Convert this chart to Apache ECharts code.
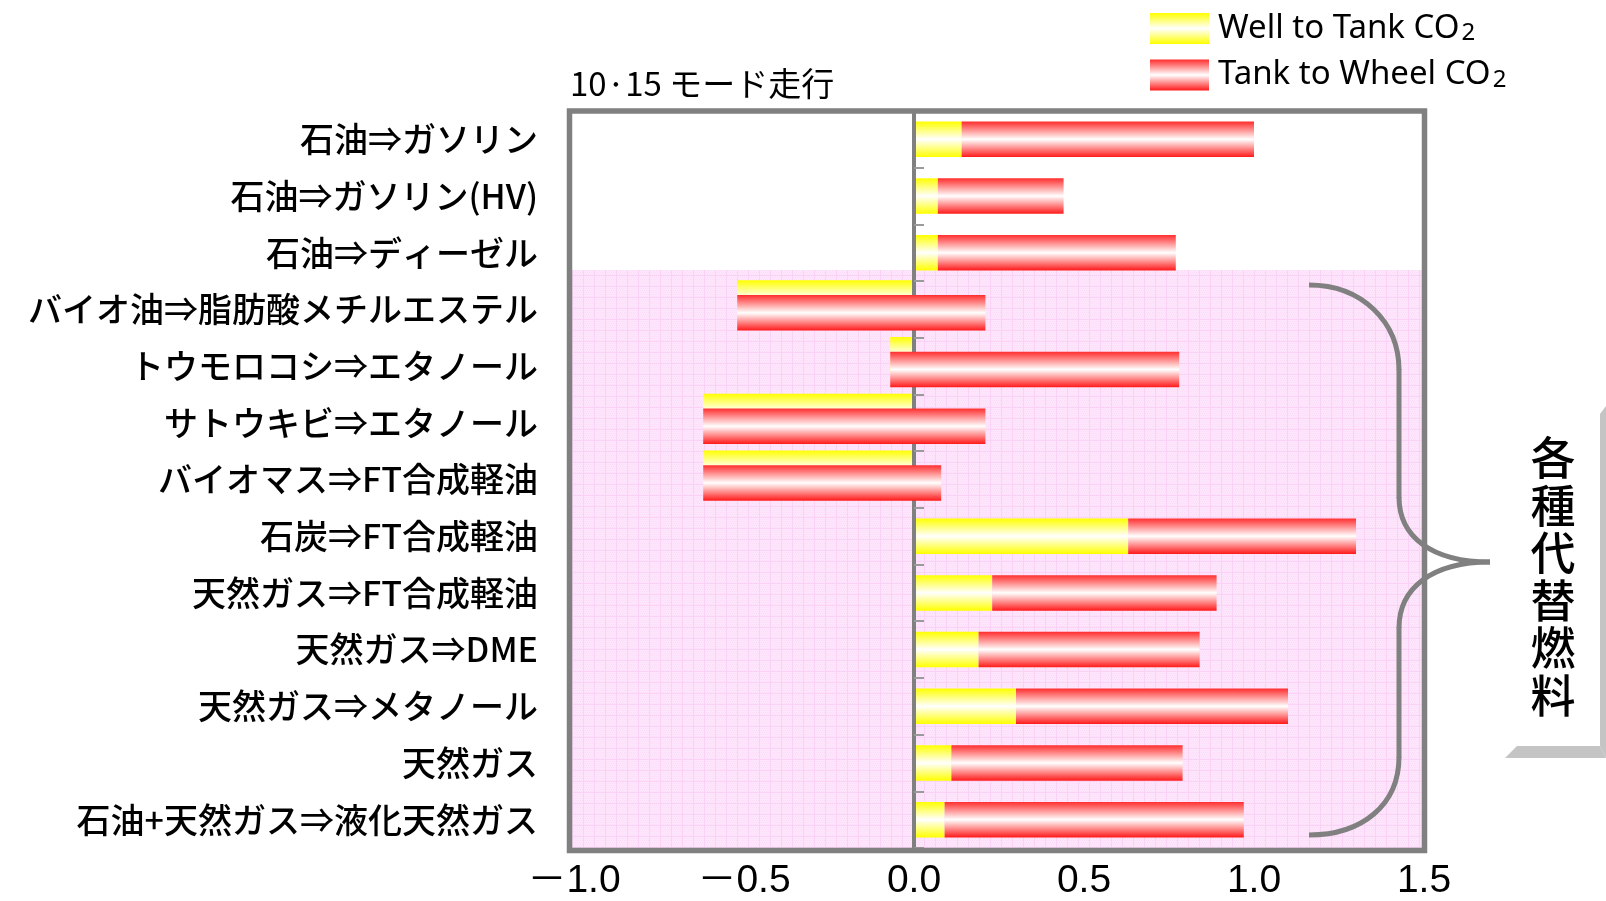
<!DOCTYPE html>
<html>
<head>
<meta charset="utf-8">
<script src="https://cdn.jsdelivr.net/npm/echarts@6/dist/echarts.min.js"></script>
<style>
  html, body { margin: 0; padding: 0; background: #fff; }
  #chart { width: 1606px; height: 901px; }
</style>
</head>
<body>
<div id="chart"></div>
<script>
// Fuel pathways, top to bottom
const categories = [
  '石油⇒ガソリン',
  '石油⇒ガソリン(HV)',
  '石油⇒ディーゼル',
  'バイオ油⇒脂肪酸メチルエステル',
  'トウモロコシ⇒エタノール',
  'サトウキビ⇒エタノール',
  'バイオマス⇒FT合成軽油',
  '石炭⇒FT合成軽油',
  '天然ガス⇒FT合成軽油',
  '天然ガス⇒DME',
  '天然ガス⇒メタノール',
  '天然ガス',
  '石油+天然ガス⇒液化天然ガス'
];

// Well to Tank CO2 (relative to gasoline total = 1.0)
const wellToTank = [0.14, 0.07, 0.07, -0.52, -0.07, -0.62, -0.62, 0.63, 0.23, 0.19, 0.30, 0.11, 0.09];
// Tank to Wheel CO2
const tankToWheel = [0.86, 0.37, 0.70, 0.73, 0.85, 0.83, 0.70, 0.67, 0.66, 0.65, 0.80, 0.68, 0.88];

const xTicks = [-1.0, -0.5, 0.0, 0.5, 1.0, 1.5];
const seriesNames = ['Well to Tank CO2', 'Tank to Wheel CO2'];

const JP = '"Noto Sans CJK JP", "Noto Sans", sans-serif';

const yellowGrad = new echarts.graphic.LinearGradient(0, 0, 0, 1, [
  { offset: 0, color: '#ffff00' },
  { offset: 0.5, color: '#ffffff' },
  { offset: 1, color: '#ffff00' }
]);
const redGrad = new echarts.graphic.LinearGradient(0, 0, 0, 1, [
  { offset: 0, color: '#ff2e2e' },
  { offset: 0.5, color: '#ffffff' },
  { offset: 1, color: '#ff1a1a' }
]);

// Fine pink grid texture for the alternative-fuel block
function makePattern() {
  const c = document.createElement('canvas');
  c.width = 11; c.height = 11;
  const g = c.getContext('2d');
  g.fillStyle = '#fde6fb';
  g.fillRect(0, 0, 11, 11);
  g.fillStyle = '#fcdcf9';
  for (let y = 0; y < 11; y += 2) for (let x = (y / 2) % 2; x < 11; x += 2) g.fillRect(x, y, 1, 1);
  g.fillStyle = '#f9d2f6';
  g.fillRect(0, 0, 11, 1);
  g.fillRect(0, 0, 1, 11);
  return c;
}

const wttData = categories.map((c, i) => [i, 0, wellToTank[i]]);
const ttwData = categories.map((c, i) => [i, wellToTank[i], wellToTank[i] + tankToWheel[i]]);

// Bars are floating spans [start, end]; where the well-to-tank part is negative
// the yellow bar sits slightly raised behind the red one.
function spanRenderer(kind, fill) {
  return function (params, api) {
    const i = api.value(0);
    const a = api.value(1), b = api.value(2);
    const band = api.size([0, 1])[1];
    const h = band * 0.626;
    const pa = api.coord([a, i]);
    const pb = api.coord([b, i]);
    let cy = pa[1];
    if (wellToTank[i] < 0) cy += (kind === 'wtt' ? -0.2 : 0.06) * band;
    let x0 = pa[0], x1 = pb[0];
    if (a === 0) x0 += (b > 0 ? 2 : -2);
    const left = Math.min(x0, x1);
    return {
      type: 'rect',
      shape: { x: left, y: cy - h / 2, width: Math.abs(x1 - x0), height: h },
      style: { fill: fill }
    };
  };
}

const chart = echarts.init(document.getElementById('chart'), null, { renderer: 'canvas' });

const G = { left: 574, top: 111, width: 850, height: 739.5 };

// Curly brace grouping the alternative fuels
const braceStyle = { fill: null, stroke: '#808080', lineWidth: 5 };
const brace = [
  { type: 'bezierCurve', shape: { x1: 1309, y1: 285, cpx1: 1362, cpy1: 285, cpx2: 1399, cpy2: 322, x2: 1399, y2: 370 } },
  { type: 'line', shape: { x1: 1399, y1: 369, x2: 1399, y2: 498 } },
  { type: 'bezierCurve', shape: { x1: 1399, y1: 497, cpx1: 1399, cpy1: 537, cpx2: 1432, cpy2: 562, x2: 1490, y2: 562 } },
  { type: 'bezierCurve', shape: { x1: 1490, y1: 562, cpx1: 1432, cpy1: 562, cpx2: 1399, cpy2: 588, x2: 1399, y2: 628 } },
  { type: 'line', shape: { x1: 1399, y1: 627, x2: 1399, y2: 758 } },
  { type: 'bezierCurve', shape: { x1: 1399, y1: 757, cpx1: 1399, cpy1: 805, cpx2: 1362, cpy2: 835, x2: 1309, y2: 835 } }
].map(e => Object.assign(e, { z: 50, silent: true, style: Object.assign({}, braceStyle) }));

chart.setOption({
  animation: false,
  backgroundColor: '#ffffff',
  title: {
    text: '10·15 モード走行',
    left: 565, top: 62,
    textStyle: { fontSize: 33, fontWeight: 'normal', color: '#000', fontFamily: JP }
  },
  legend: {
    orient: 'vertical',
    left: 1145, top: 7,
    itemWidth: 59, itemHeight: 31, itemGap: 13,
    icon: 'rect',
    selectedMode: false,
    data: [
      { name: seriesNames[0], itemStyle: { color: yellowGrad } },
      { name: seriesNames[1], itemStyle: { color: redGrad } }
    ],
    formatter: n => '{t|' + n.slice(0, -1) + '}{s|' + n.slice(-1) + '}',
    textStyle: {
      color: '#000',
      padding: [0, 0, 0, 4],
      rich: {
        t: { fontSize: 33, fontFamily: '"Noto Sans", sans-serif', color: '#000' },
        s: { fontSize: 24, fontFamily: '"Noto Sans", sans-serif', color: '#000', padding: [10, 0, 0, 2] }
      }
    }
  },
  grid: { left: G.left, top: G.top, width: G.width, height: G.height, containLabel: false },
  xAxis: {
    type: 'value',
    min: xTicks[0], max: xTicks[xTicks.length - 1], interval: 0.5,
    axisLine: { show: false },
    axisTick: { show: true, inside: true, length: 9, lineStyle: { color: '#8a8a8a', width: 1.5 } },
    splitLine: { show: false },
    axisLabel: {
      margin: 14,
      fontSize: 39,
      color: '#000',
      fontFamily: '"Liberation Sans", "Noto Sans CJK JP", sans-serif',
      formatter: v => (v < 0 ? '－' : '') + Math.abs(v).toFixed(1)
    }
  },
  yAxis: [
    {
      type: 'category', inverse: true, data: categories, position: 'left',
      axisLine: { show: false, onZero: false },
      axisTick: { show: false },
      axisLabel: {
        margin: 36, fontSize: 34, fontWeight: 500, color: '#000', fontFamily: JP,
        padding: [0, 0, 9, 0]
      }
    },
    {
      type: 'category', inverse: true, data: categories, position: 'left', z: 5,
      axisLine: { show: true, onZero: true, lineStyle: { color: '#808080', width: 4 } },
      axisTick: { show: true, inside: true, length: 10, lineStyle: { color: '#9a9a9a', width: 2 } },
      axisLabel: { show: false }
    }
  ],
  series: [
    {
      name: seriesNames[0], type: 'custom', z: 10,
      itemStyle: { color: yellowGrad },
      encode: { x: [1, 2], y: 0 },
      renderItem: spanRenderer('wtt', yellowGrad),
      data: wttData
    },
    {
      name: seriesNames[1], type: 'custom', z: 11,
      itemStyle: { color: redGrad },
      encode: { x: [1, 2], y: 0 },
      renderItem: spanRenderer('ttw', redGrad),
      data: ttwData
    }
  ],
  graphic: [
    {
      type: 'rect', z: 1, silent: true,
      shape: { x: 572, y: 270, width: 850, height: 578 },
      style: { fill: { image: makePattern(), repeat: 'repeat' } }
    },
    {
      type: 'rect', z: 50, silent: true,
      shape: { x: 569.5, y: 111, width: 855, height: 739.5 },
      style: { fill: null, stroke: '#808080', lineWidth: 5.5 }
    }
  ].concat(brace).concat([
    {
      type: 'text', z: 50, silent: true,
      x: 1553, y: 577,
      style: {
        text: '各\n種\n代\n替\n燃\n料',
        font: '500 45px "Noto Sans CJK JP"',
        lineHeight: 47.6,
        align: 'center', verticalAlign: 'middle', fill: '#000'
      }
    },
    {
      type: 'polygon', z: 50, silent: true,
      shape: { points: [[1600, 414], [1606, 406], [1606, 758], [1600, 746]] },
      style: { fill: '#c4c4c4' }
    },
    {
      type: 'polygon', z: 50, silent: true,
      shape: { points: [[1505, 758], [1517, 746], [1600, 746], [1606, 758]] },
      style: { fill: '#c4c4c4' }
    }
  ])
});
</script>
</body>
</html>
